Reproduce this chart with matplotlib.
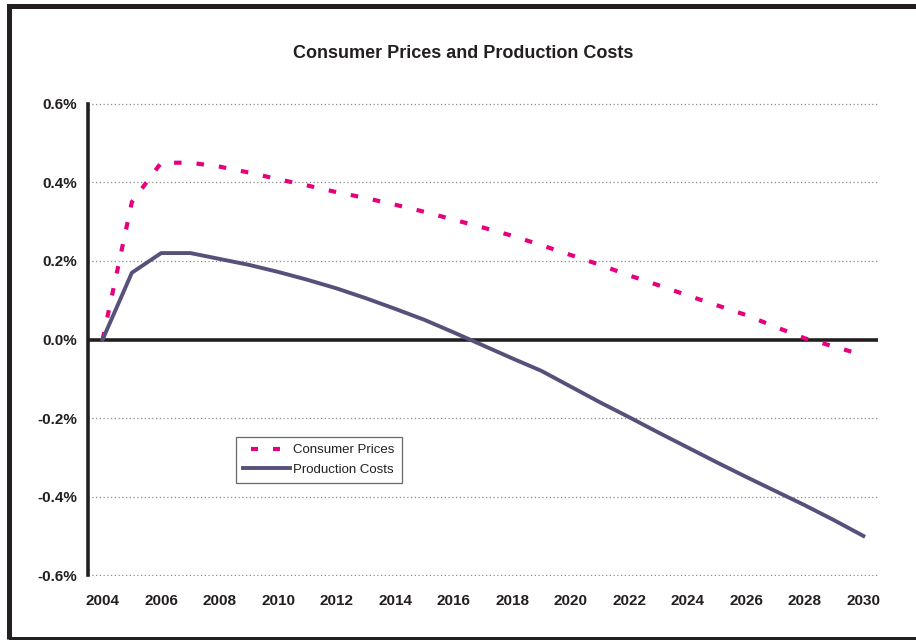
import matplotlib.pyplot as plt
from matplotlib.patches import Rectangle
from matplotlib.ticker import FuncFormatter

# data (percent)
years = list(range(2004, 2031))
consumer_prices = [0.0, 0.35, 0.45, 0.45, 0.44, 0.425, 0.408, 0.392, 0.375, 0.36,
                   0.343, 0.325, 0.305, 0.285, 0.264, 0.24, 0.215, 0.19, 0.163,
                   0.138, 0.112, 0.087, 0.062, 0.032, 0.003, -0.018, -0.04]
production_costs = [0.0, 0.17, 0.22, 0.22, 0.205, 0.19, 0.172, 0.152, 0.13, 0.105,
                    0.078, 0.05, 0.018, -0.015, -0.048, -0.08, -0.12, -0.16, -0.198,
                    -0.237, -0.275, -0.313, -0.35, -0.386, -0.422, -0.46, -0.50]
y_ticks = [-0.6, -0.4, -0.2, 0.0, 0.2, 0.4, 0.6]

plt.rcParams['font.family'] = ['Liberation Sans', 'DejaVu Sans']

W, H = 916, 640
fig = plt.figure(figsize=(W / 100, H / 100), dpi=100)
ax = fig.add_axes([88 / W, 1 - 576 / H, (878 - 88) / W, (576 - 103) / H])

# outer frame
fig.patches.append(Rectangle((8.5 / W, 1 - 638.5 / H), 1.0, (638.5 - 5.5) / H,
                             transform=fig.transFigure, fill=False,
                             edgecolor='#231f20', linewidth=3.6, clip_on=False))

ax.grid(axis='y', color='#8c8c8c', linestyle=(0, (1, 2)), linewidth=0.9)
ax.set_axisbelow(True)
ax.axhline(0, color='#231f20', linewidth=2.6, zorder=2)

ax.plot(years, consumer_prices, color='#e6007e', linewidth=3,
        dashes=(1.8, 3.6), label='Consumer Prices', zorder=3)
ax.plot(years, production_costs, color='#56507a', linewidth=2.8,
        label='Production Costs', zorder=3)

ax.set_xlim(2003.5, 2030.5)
ax.set_ylim(-0.602, 0.602)
ax.set_yticks(y_ticks)
ax.yaxis.set_major_formatter(FuncFormatter(lambda v, p: f'{v:.1f}%'))
ax.set_xticks(years[::2])

for s in ['top', 'right', 'bottom']:
    ax.spines[s].set_visible(False)
ax.spines['left'].set_linewidth(2.6)
ax.spines['left'].set_color('#231f20')
ax.spines['left'].set_bounds(-0.6, 0.6)

ax.tick_params(axis='both', length=0, labelsize=11, colors='#231f20')
ax.tick_params(axis='y', pad=8)
ax.tick_params(axis='x', pad=13)
for lbl in ax.get_xticklabels() + ax.get_yticklabels():
    lbl.set_fontweight('bold')

fig.text(0.5055, 1 - 53 / H, 'Consumer Prices and Production Costs',
         ha='center', va='center', fontsize=13, fontweight='bold', color='#231f20')

leg = ax.legend(loc='upper left', bbox_to_anchor=(0.187, 0.294), fontsize=9.5,
                frameon=True, fancybox=False, handlelength=3.6, handletextpad=0.2,
                borderpad=0.55, labelspacing=0.55, borderaxespad=0)
leg.get_frame().set_edgecolor('#444444')
leg.get_frame().set_linewidth(0.9)
# two whole dashes in the legend sample, like the reference
leg.get_lines()[0].set_linestyle((3.36, (1.68, 3.6)))
for t in leg.get_texts():
    t.set_color('#231f20')

fig.savefig('out.png', dpi=100)
